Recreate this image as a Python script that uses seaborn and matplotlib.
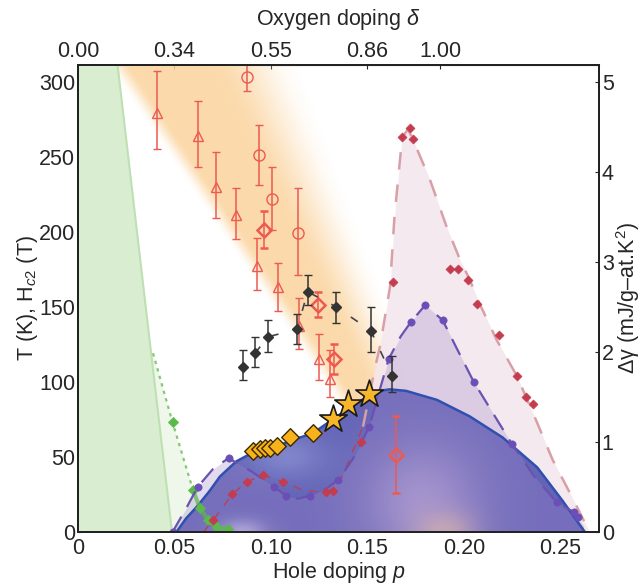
import numpy as np
import matplotlib
matplotlib.use("Agg")
import matplotlib.pyplot as plt
from matplotlib.patches import Polygon
from matplotlib.colors import to_rgb
import seaborn as sns

# ---------------- data ----------------
# superconducting dome Tc (K)
dome_p = [0.051, 0.056, 0.0617, 0.068, 0.0736, 0.082, 0.0907, 0.0975, 0.1047, 0.113,
          0.122, 0.132, 0.141, 0.151, 0.156, 0.1617, 0.170, 0.186, 0.203, 0.220,
          0.238, 0.251, 0.2627]
dome_T = [0, 9, 17, 27, 37, 47, 53, 56, 58, 62, 66, 75, 83, 91, 94, 95, 94, 88, 77, 63,
          43, 21, 0]

# green (AF) boundary and points
green_bound_p = [0.0205, 0.0487]
green_bound_T = [311, 0]
green_line_p = [0.0389, 0.049, 0.0596]
green_line_T = [119, 73, 28]
green_pts_p = [0.049, 0.0596, 0.0632, 0.0674, 0.072, 0.0777]
green_pts_T = [73, 28, 16, 8, 3, 2]

# orange pseudogap wedge (edges at given temperatures)
band_T = [0, 99, 311]
band_left = [0.184, 0.132, 0.020]
band_right = [0.188, 0.160, 0.100]

# Delta gamma curves (right axis, mJ/g-at.K^2)
red_curve_p = [0.065, 0.070, 0.080, 0.0876, 0.096, 0.106, 0.117, 0.1285, 0.135, 0.1477,
               0.154, 0.1565, 0.1617, 0.164, 0.168, 0.171, 0.1735, 0.1824, 0.191, 0.198,
               0.203, 0.208, 0.217, 0.2275, 0.238, 0.246, 0.255, 0.2637, 0.265]
red_curve_g = [0.0, 0.13, 0.42, 0.56, 0.63, 0.56, 0.46, 0.44, 0.52, 1.17,
               1.83, 2.06, 2.72, 3.5, 4.38, 4.47, 4.36, 3.91, 3.39, 3.02,
               2.80, 2.54, 2.13, 1.73, 1.21, 0.80, 0.43, 0.06, 0.0]
red_pts_p = [0.070, 0.080, 0.0876, 0.096, 0.106, 0.1285, 0.132, 0.1466, 0.163, 0.168,
             0.172, 0.1735, 0.193, 0.197, 0.202, 0.207, 0.218, 0.2275, 0.232, 0.2357]
red_pts_g = [0.13, 0.42, 0.56, 0.63, 0.56, 0.44, 0.46, 1.0, 2.78, 4.38,
             4.48, 4.36, 2.92, 2.92, 2.80, 2.53, 2.19, 1.73, 1.50, 1.42]

purple_curve_p = [0.049, 0.0565, 0.062, 0.070, 0.078, 0.090, 0.1016, 0.108, 0.114, 0.120,
                  0.128, 0.135, 0.143, 0.151, 0.156, 0.161, 0.1672, 0.1725, 0.180, 0.189,
                  0.196, 0.205, 0.215, 0.2248, 0.236, 0.248, 0.257, 0.262]
purple_curve_g = [0, 0.28, 0.50, 0.70, 0.82, 0.67, 0.50, 0.40, 0.37, 0.40,
                  0.47, 0.58, 0.83, 1.17, 1.55, 1.92, 2.17, 2.33, 2.52, 2.35,
                  2.05, 1.67, 1.32, 0.98, 0.63, 0.33, 0.22, 0.07]
purple_pts_p = [0.049, 0.062, 0.078, 0.1016, 0.108, 0.120, 0.135, 0.151, 0.161, 0.1725,
                0.180, 0.189, 0.205, 0.2248, 0.248, 0.257, 0.259]
purple_pts_g = [0, 0.50, 0.82, 0.50, 0.40, 0.40, 0.58, 1.17, 1.92, 2.33,
                2.52, 2.35, 1.67, 0.98, 0.33, 0.22, 0.17]

# open red symbols with error bars (T)
tri_p = [0.041, 0.062, 0.0715, 0.082, 0.0927, 0.1036, 0.1145, 0.125, 0.1306]
tri_T = [279, 264, 230, 211, 177, 163, 137, 115, 102]
tri_lo = [255, 243, 209, 195, 161, 147, 122, 101, 90]
tri_hi = [307, 287, 253, 229, 196, 179, 156, 132, 121]

circ_p = [0.0875, 0.094, 0.1005, 0.114]
circ_T = [303, 251, 222, 199]
circ_lo = [294, 231, 201, 171]
circ_hi = [313, 271, 243, 229]

odia_p = [0.0964, 0.1243, 0.1327, 0.165]
odia_T = [201, 151, 115, 51]
odia_lo = [189, 143, 105, 26]
odia_hi = [214, 160, 125, 77]

blk_p = [0.0854, 0.0917, 0.0985, 0.1135, 0.119, 0.1337, 0.1518, 0.1627]
blk_T = [110, 119, 130, 135, 160, 150, 134, 104]
blk_lo = [101, 110, 120, 125, 151, 139, 120, 93]
blk_hi = [121, 130, 141, 145, 171, 160, 150, 117]

ydia_p = [0.0907, 0.0943, 0.0969, 0.0995, 0.103, 0.110, 0.122]
ydia_T = [54, 55, 56, 56, 57, 63, 66]
star_p = [0.132, 0.140, 0.151]
star_T = [75, 85, 92]

x_ticks = [0, 0.05, 0.10, 0.15, 0.20, 0.25]
x_labels = ["0", "0.05", "0.10", "0.15", "0.20", "0.25"]
y_ticks = [0, 50, 100, 150, 200, 250, 300]
g_ticks = [0, 1, 2, 3, 4, 5]
top_ticks = [0.0, 0.05, 0.10, 0.15, 0.1876]
top_labels = ["0.00", "0.34", "0.55", "0.86", "1.00"]

# ---------------- style ----------------
sns.set_style("white")
plt.rcParams['font.family'] = ['Liberation Sans', 'DejaVu Sans']
plt.rcParams['mathtext.fontset'] = 'custom'
plt.rcParams['mathtext.rm'] = 'Liberation Sans'
plt.rcParams['mathtext.it'] = 'Liberation Sans:italic'
FS = 15.5

fig = plt.figure(figsize=(6.43, 5.87), dpi=100)
ax = fig.add_axes([78/643, 55/587, 521/643, 467/587])
ax2 = ax.twinx()
XMAX, YMAX = 0.27, 311
GMAX = YMAX / 60
ax.set_xlim(0, XMAX); ax.set_ylim(0, YMAX)
ax2.set_ylim(0, GMAX)
gT = ax2.transData

# grid for gradient images
P, TT = np.meshgrid(np.linspace(0, XMAX, 540), np.linspace(0, YMAX, 470))

def smooth(t):
    t = np.clip(t, 0, 1)
    return t * t * (3 - 2 * t)

# orange wedge
pl = np.interp(TT, band_T, band_left)
pr = np.interp(TT, band_T, band_right)
w = pr - pl
aL = smooth((P - (pl - 0.005)) / 0.012)
aR = 1 - smooth((P - (pr - 0.4 * w)) / (0.4 * w + 0.016))
orange = np.zeros(P.shape + (4,))
orange[..., :3] = to_rgb('#fbd39c')
orange[..., 3] = 0.85 * aL * aR
ax.imshow(orange, extent=[0, XMAX, 0, YMAX], origin='lower', aspect='auto',
          interpolation='bilinear', zorder=1)

# green regions
gb_T = np.array(green_bound_T)
ax.fill_betweenx(green_bound_T, 0, green_bound_p, color='#d9eed1', lw=0, zorder=2)
ax.plot(green_bound_p, green_bound_T, color='#bfdfb4', lw=1.5, zorder=2.1)
light_x = [np.interp(green_line_T[0], gb_T[::-1], np.array(green_bound_p)[::-1])] + \
    green_line_p + green_pts_p[1:] + [green_pts_p[-1], green_bound_p[1]]
light_y = [green_line_T[0]] + green_line_T + green_pts_T[1:] + [0, 0]
ax.fill(light_x, light_y, color='#eef7ea', lw=0, zorder=2)

# pink fill under red curve
ax.fill_between(red_curve_p, red_curve_g, 0, transform=gT, color='#f4e6ee',
                alpha=0.85, lw=0, zorder=2.5)

# dome gradient
base = np.ones(P.shape + (3,)) * np.array(to_rgb('#5c5db4'))
def mix(img, col, wt):
    return img * (1 - wt[..., None]) + np.array(to_rgb(col)) * wt[..., None]
base = mix(base, '#b8a6d8', 0.75 * np.exp(-((P - 0.178) / 0.03) ** 2 - ((TT - 20) / 40) ** 2))
base = mix(base, '#96a0dc', 0.5 * np.exp(-((P - 0.108) / 0.02) ** 2 - ((TT - 50) / 15) ** 2))
base = mix(base, '#f2c4a2', 0.7 * np.exp(-((P - 0.19) / 0.016) ** 2 - (TT / 14) ** 2))
base = mix(base, '#e2ddf4', 0.6 * np.exp(-((P - 0.085) / 0.012) ** 2 - (TT / 8) ** 2))
dome_img = np.dstack([base, np.full(P.shape, 0.95)])
im = ax.imshow(dome_img, extent=[0, XMAX, 0, YMAX], origin='lower', aspect='auto',
               interpolation='bilinear', zorder=3)
im.set_clip_path(Polygon(np.column_stack([dome_p, dome_T]), closed=True,
                         transform=ax.transData))

# purple fill under purple curve
ax.fill_between(purple_curve_p, purple_curve_g, 0, transform=gT, color='#a088c8',
                alpha=0.3, lw=0, zorder=3.5)

# dome line
sns.lineplot(x=dome_p, y=dome_T, ax=ax, color='#3050b0', lw=1.8, sort=False,
             estimator=None, zorder=4)

# green dotted line and thick bottom line
ax.plot(green_line_p, green_line_T, color='#86c876', lw=1.6, ls=(0, (1.5, 2)), zorder=4)
ax.plot(green_pts_p[1:], green_pts_T[1:], color='#5cb84a', lw=3, alpha=0.7, zorder=4)
sns.scatterplot(x=green_pts_p, y=green_pts_T, ax=ax, marker='D', s=28,
                color='#5cb84a', edgecolor='#5cb84a', zorder=4.5)

# red and purple curves (right axis)
n_lo = red_curve_p.index(0.1477) + 1
ax.plot(red_curve_p[:n_lo], red_curve_g[:n_lo], transform=gT, color='#b8405a', lw=1,
        ls=(0, (6, 6)), zorder=4.5)
ax.plot(red_curve_p[n_lo - 1:], red_curve_g[n_lo - 1:], transform=gT, color='#d8a0a6',
        lw=1.8, ls=(0, (7, 6)), zorder=4.5)
ax.plot(purple_curve_p, purple_curve_g, transform=gT, color='#6a52b0', lw=1.6,
        ls=(0, (8, 5)), zorder=4.6)
sns.scatterplot(x=purple_pts_p, y=purple_pts_g, ax=ax, transform=gT, marker='o', s=28,
                color='#6c4fb6', edgecolor='#6c4fb6', zorder=5)
sns.scatterplot(x=red_pts_p, y=red_pts_g, ax=ax, transform=gT, marker='D', s=22,
                color='#c43c4e', edgecolor='#c43c4e', zorder=5)

# open red markers with error bars
RED = '#ec5a52'
def ebar(px, py, lo, hi, marker, ms, mew, color, zo, mfc='none'):
    py = np.array(py); lo = np.array(lo); hi = np.array(hi)
    ax.errorbar(px, py, yerr=[py - lo, hi - py], fmt=marker, ms=ms, mfc=mfc, mec=color,
                mew=mew, ecolor=color, elinewidth=1.1, capsize=3, capthick=1.1, zorder=zo)

ebar(tri_p, tri_T, tri_lo, tri_hi, '^', 7, 1.0, RED, 6)
ebar(circ_p, circ_T, circ_lo, circ_hi, 'o', 8, 1.0, RED, 6)
ebar(odia_p, odia_T, odia_lo, odia_hi, 'D', 7, 1.8, RED, 6)

# black points
ax.plot(blk_p, blk_T, color='#444444', lw=1.2, ls=(3, (5, 9)), zorder=6)
ebar(blk_p, blk_T, blk_lo, blk_hi, 'D', 5, 1.0, '#333333', 6.2, mfc='#333333')

# yellow diamonds and stars
sns.scatterplot(x=ydia_p, y=ydia_T, ax=ax, marker='D', s=80, color='#f7b21c',
                edgecolor='#3a2a00', linewidth=1.0, zorder=7)
sns.scatterplot(x=star_p, y=star_T, ax=ax, marker='*', s=430, color='#f7b52a',
                edgecolor='#1a1a1a', linewidth=1.2, zorder=7.5)

# ---------------- axes ----------------
ax.set_xlim(0, XMAX); ax.set_ylim(0, YMAX); ax2.set_ylim(0, GMAX)
ax.set_xticks(x_ticks, x_labels)
ax.set_yticks(y_ticks)
ax2.set_yticks(g_ticks)
ax.tick_params(axis='y', direction='in', length=3, labelsize=FS, pad=2, right=False)
ax.tick_params(axis='x', direction='in', length=3, labelsize=FS, pad=4, top=False)
ax2.tick_params(axis='y', direction='in', length=3, labelsize=FS, pad=2)
for a in (ax, ax2):
    for s in a.spines.values():
        s.set_color('#222222'); s.set_linewidth(1.4); s.set_visible(True)
ax.set_xlabel("Hole doping $p$", fontsize=FS, labelpad=1)
ax.set_ylabel("T (K), H$_{c2}$ (T)", fontsize=FS, labelpad=-1)
ax2.set_ylabel("\u0394\u03b3 (mJ/g\u2013at.K$^{2}$)", fontsize=FS, labelpad=0)

sec = ax.secondary_xaxis('top')
sec.set_xticks(top_ticks, top_labels)
sec.tick_params(direction='in', length=3, labelsize=FS, pad=2)
sec.set_xlabel("Oxygen doping $\\delta$", fontsize=FS, labelpad=12)

fig.savefig("out.png", dpi=100)
